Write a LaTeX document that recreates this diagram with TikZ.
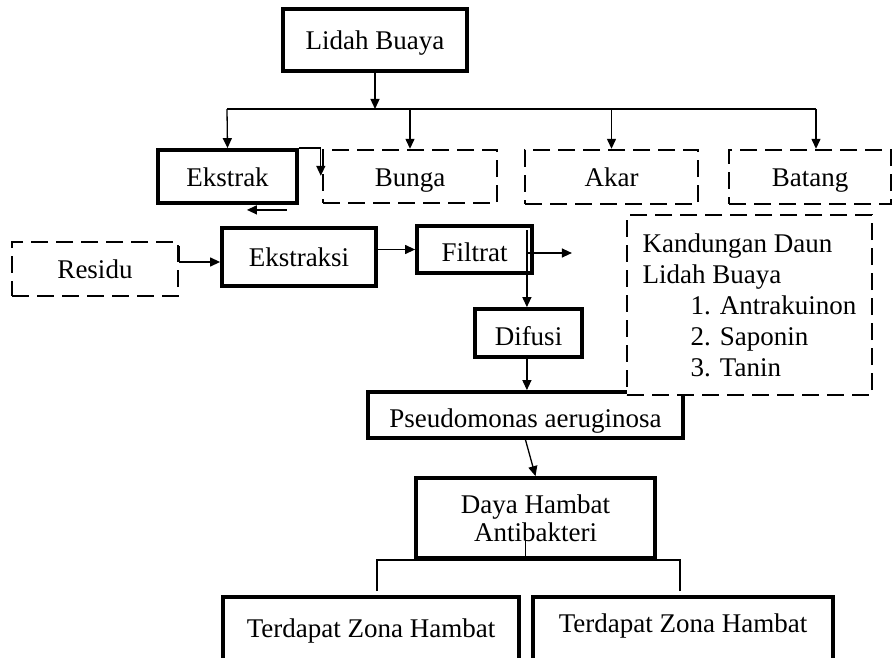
\documentclass[tikz,border=0pt]{standalone}
\usepackage{fontspec}
\setmainfont{Liberation Serif}
\usetikzlibrary{arrows.meta}
\tikzset{
  solidbox/.style={draw,line width=3.8pt,fill=white,inner sep=0pt,text height=25pt,text depth=6pt},
  dashbox/.style={draw,line width=2.4pt,dash pattern=on 17pt off 8pt,fill=white,inner sep=0pt,text height=25pt,text depth=6pt},
  link/.style={line width=1.2pt},
  arrow/.style={line width=1.3pt,-{Triangle[length=10pt,width=9pt]}}
}
\begin{document}
\begin{tikzpicture}[x=1pt,y=-1pt,font=\fontsize{27}{31}\selectfont]
\useasboundingbox (0,0) rectangle (894,658);
\clip (0,0) rectangle (894,658);
% Lidah Buaya
\node[solidbox,minimum width=184pt,minimum height=62pt] (lidah) at (375,40) {Lidah Buaya};
\coordinate (busL) at (227,109); % bus left end
\coordinate (busR) at (816,109); % bus right end
\draw[arrow] (lidah.south) -- (lidah.south |- busL);
\draw[link] (busL) -- (busR); % bus line
% parts
\node[solidbox,minimum width=139pt,minimum height=53pt] (ekstrak) at (227.5,176.5) {Ekstrak};
\node[dashbox,minimum width=174pt,minimum height=53pt] (bunga) at (410,176.5) {Bunga};
\node[dashbox,minimum width=173pt,minimum height=54pt] (akar) at (611.5,177) {Akar};
\node[dashbox,minimum width=162pt,minimum height=54pt] (batang) at (810,177) {Batang};
\draw[arrow] (busL) -- (ekstrak.north);
\draw[arrow] (busL -| bunga.north) -- (bunga.north);
\draw[arrow] (busL -| akar.north) -- (akar.north);
\draw[arrow] (busR) -- (busR |- batang.north);
\draw[arrow] (ekstrak.north east) -| ([shift={(-1,27)}]bunga.north west);
\draw[arrow] ([shift={(-12,5)}]ekstrak.south east) -- ++(-40,0); % short arrow under Ekstrak
% Ekstraksi row
\node[dashbox,minimum width=166pt,minimum height=54pt] (residu) at (95,269) {Residu};
\node[solidbox,minimum width=154pt,minimum height=58pt] (ekstraksi) at (299,257) {Ekstraksi};
\node[solidbox,minimum width=115pt,minimum height=47pt,text height=30pt] (filtrat) at (474.5,249.5) {Filtrat};
\draw[arrow] ([shift={(0,5)}]residu.north east) |- ([shift={(0,5)}]ekstraksi.west);
\draw[arrow] (ekstraksi.east |- filtrat.west) -- (filtrat.west);
\draw[arrow] ([shift={(-7,3.5)}]filtrat.east) -- ++(45,0);
% Difusi
\node[solidbox,minimum width=107pt,minimum height=48pt,text height=30pt] (difusi) at (528.5,333) {Difusi};
\coordinate (fdrop) at ([shift={(-7,6)}]filtrat.north east);
\draw[arrow] (fdrop) -- (fdrop |- difusi.north);
% Pseudomonas
\node[solidbox,minimum width=315pt,minimum height=46pt,text height=30pt] (pseudo) at (525.5,415) {Pseudomonas aeruginosa};
\draw[arrow] (fdrop |- difusi.south) -- (fdrop |- pseudo.north);
% Kandungan
\node[dashbox,minimum width=245pt,minimum height=180pt,align=left,text height=,text depth=] (kandungan) at (749.5,305)
  {Kandungan Daun\\Lidah Buaya\\\hspace*{48pt}1. Antrakuinon\\\hspace*{48pt}2. Saponin\\\hspace*{48pt}3. Tanin};
% Daya Hambat
\node[solidbox,minimum width=239pt,minimum height=80pt,align=center,text height=,text depth=,font=\fontsize{27}{28}\selectfont] (daya) at (535.5,518) {Daya Hambat\\Antibakteri};
\draw[arrow] (pseudo.south) -- (daya.north);
\draw[link] ([shift={(-10,0)}]daya.south) -- ++(0,-37); % stem
% results
\node[solidbox,minimum width=296pt,minimum height=66pt,text height=20pt] (terdapatA) at (371,630) {Terdapat Zona Hambat};
\node[solidbox,minimum width=300pt,minimum height=66pt,text height=19pt,text depth=15pt] (terdapatB) at (683,630) {Terdapat Zona Hambat};
\draw[link] ([shift={(6,-4)}]terdapatA.north) |- (daya.south);
\draw[link] ([shift={(-3,-4)}]terdapatB.north) |- (daya.south);
\end{tikzpicture}
\end{document}
